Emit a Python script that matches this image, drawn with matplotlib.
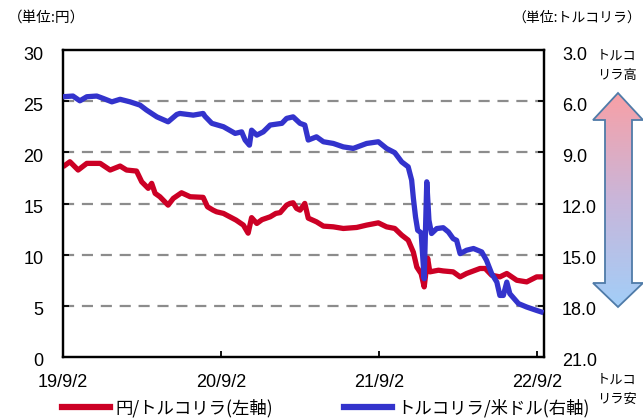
import matplotlib
matplotlib.use('Agg')
import matplotlib.pyplot as plt
import numpy as np
import pandas as pd
from matplotlib.patches import Polygon
from matplotlib.ticker import FixedLocator, FuncFormatter
from matplotlib.colors import LinearSegmentedColormap
from matplotlib.lines import Line2D
import matplotlib.transforms as mtransforms

# ---------------- data ----------------
start_date = '2019-09-02'
# JPY per TRY (left axis); day offsets from start_date
red_days = [0, 16, 35, 55, 86, 109, 132, 147, 170, 182, 197, 205, 213, 224, 243, 255,
            274, 294, 324, 334, 347, 355, 371, 378, 400, 417, 428, 436, 448, 460, 479,
            492, 502, 517, 525, 532, 540, 548, 559, 567, 586, 602, 625, 648, 679, 702,
            729, 748, 767, 783, 798, 810, 818, 828, 835, 843, 848, 868, 879, 902, 918,
            933, 964, 976, 991, 1010, 1026, 1049, 1072, 1095, 1111]
red_vals = [18.59, 19.08, 18.27, 18.92, 18.92, 18.27, 18.66, 18.27, 18.17, 17.12, 16.48,
            16.97, 15.99, 15.66, 14.84, 15.50, 16.05, 15.66, 15.60, 14.68, 14.35, 14.19,
            14.03, 13.87, 13.38, 12.89, 12.10, 13.62, 13.05, 13.42, 13.70, 14.03, 14.11,
            14.84, 15.01, 15.07, 14.52, 14.35, 15.01, 13.57, 13.21, 12.79, 12.72, 12.56,
            12.66, 12.89, 13.11, 12.72, 12.56, 11.91, 11.42, 10.24, 8.78, 8.14, 6.85,
            9.66, 8.32, 8.48, 8.41, 8.32, 7.83, 8.16, 8.65, 8.65, 7.99, 7.83, 8.16, 7.50,
            7.34, 7.83, 7.83]
# TRY per USD (right axis, inverted)
blue_days = [0, 23, 39, 55, 78, 93, 113, 132, 155, 178, 193, 217, 243, 263, 270, 301,
             324, 328, 344, 371, 398, 413, 421, 431, 436, 448, 463, 479, 506, 517, 532,
             548, 559, 567, 586, 602, 625, 648, 671, 702, 729, 748, 767, 783, 798, 806,
             810, 815, 820, 828, 835, 841, 846, 852, 864, 879, 891, 902, 910, 918, 933,
             949, 968, 979, 991, 1003, 1010, 1018, 1026, 1033, 1053, 1072, 1095, 1111]
blue_vals = [5.74, 5.70, 5.98, 5.74, 5.70, 5.84, 6.04, 5.89, 6.04, 6.23, 6.52, 6.92, 7.21,
             6.78, 6.72, 6.82, 6.72, 6.88, 7.30, 7.50, 7.89, 7.80, 8.28, 8.58, 7.70, 7.99,
             7.80, 7.40, 7.30, 7.01, 6.92, 7.30, 7.40, 8.28, 8.09, 8.38, 8.48, 8.68, 8.77,
             8.48, 8.38, 8.77, 9.02, 9.56, 9.85, 10.63, 11.69, 12.79, 13.57, 13.72, 16.41,
             10.73, 12.98, 13.76, 13.47, 13.42, 13.67, 14.06, 14.16, 14.94, 14.74, 14.64,
             14.84, 15.33, 16.11, 16.61, 17.39, 17.39, 16.61, 17.29, 17.87, 18.07, 18.27,
             18.40]

left_ticks = [0, 5, 10, 15, 20, 25, 30]
right_ticks = [3.0, 6.0, 9.0, 12.0, 15.0, 18.0, 21.0]
x_tick_dates = ['2019-09-02', '2020-09-02', '2021-09-02', '2022-09-02']
x_tick_labels = ['19/9/2', '20/9/2', '21/9/2', '22/9/2']
x_end_offset = 1112
legend_labels = ['円/トルコリラ(左軸)', 'トルコリラ/米ドル(右軸)']
unit_left = '（単位:円）'
unit_right = '（単位:トルコリラ）'
arrow_top_text = 'トルコ\nリラ高'
arrow_bottom_text = 'トルコ\nリラ安'

# ---------------- styling ----------------
num_font = ['Liberation Sans Narrow', 'Liberation Sans', 'DejaVu Sans']
jp_font = ['Noto Sans CJK JP', 'DejaVu Sans']
RED = '#CC0025'
BLUE = '#3333CC'

start = pd.Timestamp(start_date)
red_x = start + pd.to_timedelta(red_days, unit='D')
blue_x = start + pd.to_timedelta(blue_days, unit='D')

W, H = 643, 418
fig = plt.figure(figsize=(W / 100, H / 100), dpi=100)
L, R, T, B = 63, 544, 50, 357
ax = fig.add_axes([L / W, 1 - B / H, (R - L) / W, (B - T) / H])
ax2 = ax.twinx()

ax.plot(red_x, red_vals, color=RED, lw=3.8, solid_joinstyle='round', solid_capstyle='butt', zorder=3)
ax2.plot(blue_x, blue_vals, color=BLUE, lw=3.8, solid_joinstyle='round', solid_capstyle='butt', zorder=3)

ax.set_xlim(start, start + pd.Timedelta(days=x_end_offset))
ax.set_ylim(0, 30)
ax2.set_ylim(21, 3)

ax.yaxis.set_major_locator(FixedLocator(left_ticks))
ax2.yaxis.set_major_locator(FixedLocator(right_ticks))
ax2.yaxis.set_major_formatter(FuncFormatter(lambda v, p: f'{v:.1f}'))
ax.set_xticks(pd.to_datetime(x_tick_dates))
ax.set_xticklabels(x_tick_labels)

for g in left_ticks[1:-1]:
    ax.axhline(g, color='#8C8C8C', lw=1.6, ls=(0, (5, 3.5)), zorder=1)

for a in (ax, ax2):
    for s in a.spines.values():
        s.set_linewidth(1.6)
        s.set_color('black')
ax.tick_params(axis='both', direction='in', length=4, width=1.3, labelsize=13, colors='black')
ax.tick_params(axis='y', pad=14)
ax.tick_params(axis='x', pad=12)
ax2.tick_params(axis='y', direction='in', length=4, width=1.3, labelsize=13, pad=13)

off = mtransforms.ScaledTranslation(0, -3 / 100, fig.dpi_scale_trans)
for lab in ax.get_yticklabels() + ax2.get_yticklabels():
    lab.set_family(num_font)
    lab.set_transform(lab.get_transform() + off)
for lab in ax.get_xticklabels():
    lab.set_family(num_font)

# unit labels
fig.text(8 / W, 1 - 18 / H, unit_left, family=jp_font, fontsize=10.5, ha='left', va='center')
fig.text(641 / W, 1 - 18 / H, unit_right, family=jp_font, fontsize=10, ha='right', va='center')

# arrow with gradient
ov = fig.add_axes([0, 0, 1, 1], zorder=-1)
ov.set_xlim(0, W)
ov.set_ylim(H, 0)
ov.axis('off')
cx = 618
pts = [(cx, 93), (643, 120), (632, 120), (632, 283), (643, 283), (cx, 307),
       (593, 283), (605, 283), (605, 120), (593, 120)]
poly = Polygon(pts, closed=True, facecolor='none', edgecolor='#4F7BA8', lw=1.3, zorder=3)
ov.add_patch(poly)
cmap = LinearSegmentedColormap.from_list('g', ['#F8A0A6', '#C9B6DA', '#A2CEF8'])
grad = np.linspace(0, 1, 256).reshape(-1, 1)
im = ov.imshow(grad, cmap=cmap, extent=(593, 643, 307, 93), aspect='auto', zorder=2)
im.set_clip_path(poly)

fig.text(617 / W, 1 - 66 / H, arrow_top_text, family=jp_font, fontsize=9.5, ha='center',
         va='center', linespacing=1.6)
fig.text(617 / W, 1 - 390 / H, arrow_bottom_text, family=jp_font, fontsize=9.5, ha='center',
         va='center', linespacing=1.6)

# legend
handles = [Line2D([], [], color=RED, lw=4.5), Line2D([], [], color=BLUE, lw=4.5)]
fig.legend(handles, legend_labels, loc='center', bbox_to_anchor=(326 / W, 1 - 408 / H),
           ncol=2, frameon=False, prop={'family': jp_font, 'size': 12.5},
           handlelength=2.75, handletextpad=0.3, columnspacing=4.1, borderpad=0, borderaxespad=0)

fig.savefig('out.png', dpi=100)
